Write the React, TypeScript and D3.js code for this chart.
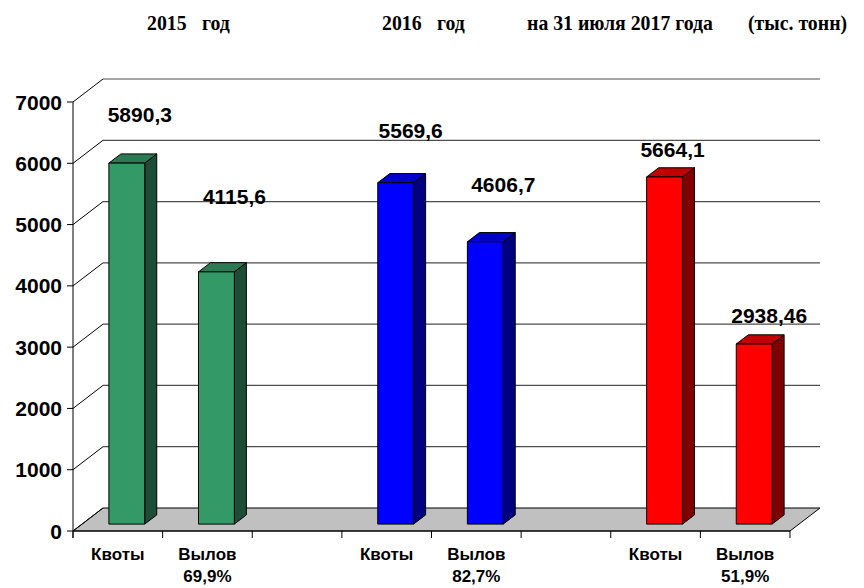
import { scaleBand, scaleLinear, range } from "d3";

const categories = ["Квоты", "Вылов", "", "Квоты", "Вылов", "", "Квоты", "Вылов"];
const subLabels = ["", "69,9%", "", "", "82,7%", "", "", "51,9%"];
const values: (number | null)[] = [5890.3, 4115.6, null, 5569.6, 4606.7, null, 5664.1, 2938.46];
const groupOf = [0, 0, -1, 1, 1, -1, 2, 2];
const yTicks = [0, 1000, 2000, 3000, 4000, 5000, 6000, 7000];
const titleParts = [
  { text: "2015", x: 147 },
  { text: "год", x: 202 },
  { text: "2016", x: 382 },
  { text: "год", x: 437 },
  { text: "на 31 июля 2017 года", x: 527 },
  { text: "(тыс. тонн)", x: 748 },
];

// colours per group: front, top, side
const palette = [
  { front: "#339966", top: "#2b7a54", side: "#1d4d36" },
  { front: "#0000ff", top: "#0000cc", side: "#000080" },
  { front: "#ff0000", top: "#c00000", side: "#800000" },
];

// label nudges relative to bar top (Excel left them where they were)
const labelShift: [number, number][] = [
  [13, -41], [18, -68], [0, 0], [15, -45], [18, -50], [0, 0], [8, -20], [15, -21],
];

const W = 864;
const H = 588;
const left = 73;
const right = 790;
const depthX = 30;
const depthY = -23;

export default function App() {
  const x = scaleBand<number>()
    .domain(range(categories.length))
    .range([left, right])
    .padding(0);
  const y = scaleLinear().domain([0, 7000]).range([531, 102]);
  const bw = x.bandwidth() * 0.4;
  const z0 = 0.3;
  const z1 = 0.7;

  const proj = (px: number, v: number, z: number): [number, number] => [
    px + z * depthX,
    y(v) + z * depthY,
  ];
  const pts = (a: [number, number][]) => a.map((p) => p.join(",")).join(" ");

  return (
    <svg
      width={W}
      height={H}
      style={{ position: "absolute", left: 0, top: 0, background: "#fff" }}
      fontFamily="'Liberation Sans', Arial, sans-serif"
    >
      {/* floor */}
      <polygon
        points={pts([proj(left, 0, 0), proj(right, 0, 0), proj(right, 0, 1), proj(left, 0, 1)])}
        fill="#c0c0c0"
        stroke="#000"
        strokeWidth={1}
      />
      {/* gridlines: side wall + back wall */}
      {yTicks.map((t) => {
        const a = proj(left, t, 0);
        const b = proj(left, t, 1);
        const c = proj(right, t, 1);
        return (
          <g key={t}>
            <line x1={a[0]} y1={a[1]} x2={b[0]} y2={b[1]} stroke="#000" strokeWidth={1} />
            {t > 0 && <line x1={b[0]} y1={b[1]} x2={c[0]} y2={c[1]} stroke="#4d4d4d" strokeWidth={1.2} />}
          </g>
        );
      })}
      {/* axes */}
      <line x1={left} y1={y(7000)} x2={left} y2={y(0) + 7} stroke="#000" />
      <line x1={left} y1={y(0)} x2={right} y2={y(0)} stroke="#000" />
      {yTicks.map((t) => (
        <g key={t}>
          <line x1={left - 6} y1={y(t)} x2={left} y2={y(t)} stroke="#000" />
          <text x={62} y={y(t)} dy="0.36em" textAnchor="end" fontSize={21} fontWeight="bold">
            {t}
          </text>
        </g>
      ))}
      {range(categories.length + 1).map((i) => {
        const px = left + i * x.bandwidth();
        return <line key={i} x1={px} y1={y(0)} x2={px} y2={y(0) + 7} stroke="#000" />;
      })}
      {categories.map((c, i) => (
        <g key={i}>
          <text x={x(i)! + x.bandwidth() / 2} y={560} textAnchor="middle" fontSize={17} fontWeight="bold">
            {c}
          </text>
          <text x={x(i)! + x.bandwidth() / 2} y={582} textAnchor="middle" fontSize={17} fontWeight="bold">
            {subLabels[i]}
          </text>
        </g>
      ))}
      {/* bars */}
      {values.map((v, i) => {
        if (v == null) return null;
        const col = palette[groupOf[i]];
        const cx = x(i)! + x.bandwidth() / 2;
        const xa = cx - bw / 2;
        const xb = cx + bw / 2;
        const fTL = proj(xa, v, z0);
        const fTR = proj(xb, v, z0);
        const fBL = proj(xa, 0, z0);
        const fBR = proj(xb, 0, z0);
        const bTL = proj(xa, v, z1);
        const bTR = proj(xb, v, z1);
        const bBR = proj(xb, 0, z1);
        return (
          <g key={i} stroke="#000" strokeWidth={1} strokeLinejoin="round">
            <polygon points={pts([fTR, bTR, bBR, fBR])} fill={col.side} />
            <polygon points={pts([fTL, fTR, bTR, bTL])} fill={col.top} />
            <polygon points={pts([fTL, fTR, fBR, fBL])} fill={col.front} />
          </g>
        );
      })}
      {/* data labels */}
      {values.map((v, i) => {
        if (v == null) return null;
        const cx = x(i)! + x.bandwidth() / 2;
        const top = proj(cx, v, z0);
        return (
          <text
            key={i}
            x={top[0] + labelShift[i][0]}
            y={top[1] + labelShift[i][1]}
            textAnchor="middle"
            fontSize={21}
            fontWeight="bold"
          >
            {String(v).replace(".", ",")}
          </text>
        );
      })}
      {/* title row */}
      {titleParts.map((p, i) => (
        <text
          key={i}
          transform={`translate(${p.x},30) scale(0.9,1)`}
          fontFamily="'Liberation Serif', 'Times New Roman', serif"
          fontSize={22}
          fontWeight="bold"
        >
          {p.text}
        </text>
      ))}
    </svg>
  );
}
